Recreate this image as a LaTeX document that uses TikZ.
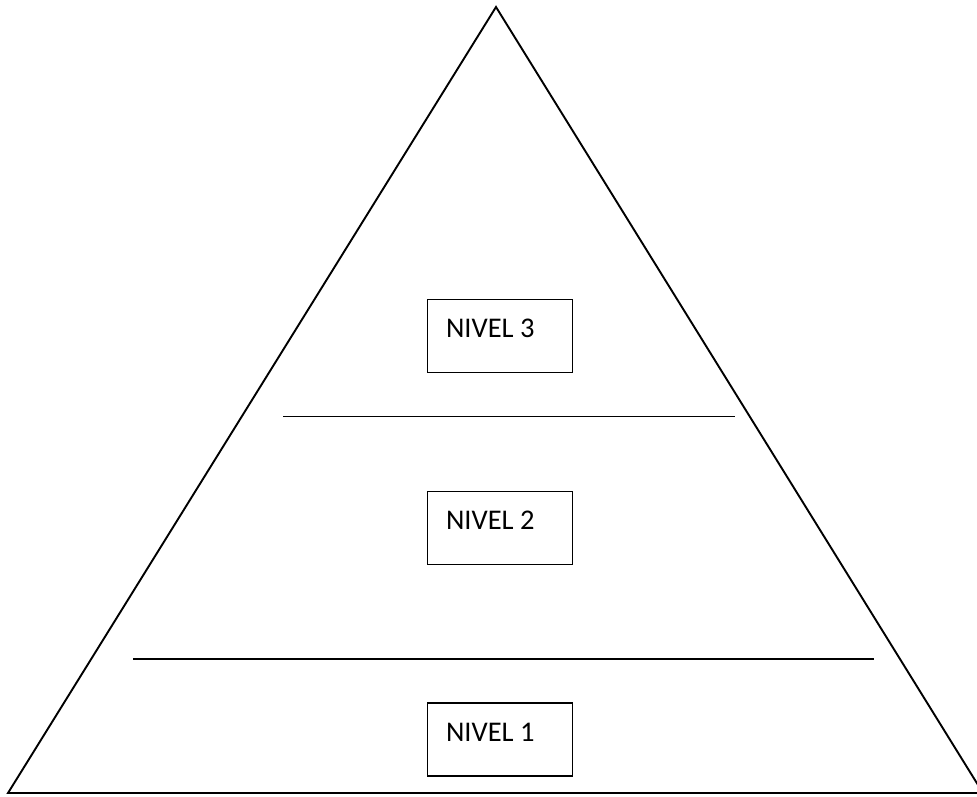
\documentclass[tikz,border=0pt]{standalone}
\usepackage{fontspec}
\setmainfont{Carlito}
\begin{document}
\begin{tikzpicture}[x=1pt,y=-1pt,
  edge/.style={line width=1.9pt, line join=miter},
  divider/.style={line width=1.3pt},
  lvlbox/.style={draw, line width=1.3pt, rectangle, minimum width=145pt, minimum height=73pt, inner sep=0pt},
  lvltext/.style={anchor=base west, inner sep=0pt, font=\fontsize{28.5}{34}\selectfont}]
  \useasboundingbox (0,0) rectangle (977,796);

  % outer pyramid
  \coordinate (apex) at (496,7);
  \coordinate (bl) at (8,793);
  \coordinate (br) at (983,793);
  \draw[edge] (bl) -- (apex) -- (br) -- cycle;

  % level dividers
  \coordinate (d1a) at (283,416.5);
  \coordinate (d1b) at (735,416.5);
  \coordinate (d2a) at (133,659);
  \coordinate (d2b) at (874,659);
  \draw[divider] (d1a) -- (d1b);
  \draw[divider] (d2a) -- (d2b);

  % level boxes
  \node[lvlbox] (b3) at (500,336) {};
  \node[lvlbox] (b2) at (500,528) {};
  \node[lvlbox] (b1) at (500,739.5) {};
  \node[lvltext] (t3) at ([xshift=19pt,yshift=-1pt]b3.west) {NIVEL 3};
  \node[lvltext] (t2) at ([xshift=19pt,yshift=-1pt]b2.west) {NIVEL 2};
  \node[lvltext] (t1) at ([xshift=19pt,yshift=-1.5pt]b1.west) {NIVEL 1};
\end{tikzpicture}
\end{document}
